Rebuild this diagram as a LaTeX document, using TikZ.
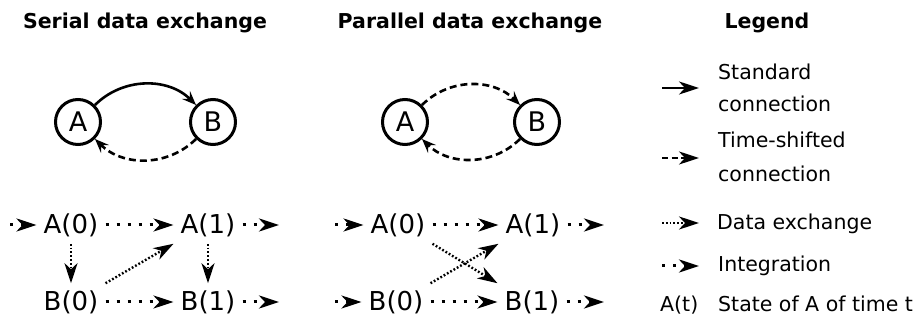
\documentclass[tikz,border=0pt]{standalone}
\usepackage{fontspec}
\setmainfont{DejaVu Sans}
\usetikzlibrary{arrows.meta}
\tikzset{
  x=1pt, y=-1pt,
  ttl/.style={font=\bfseries\fontsize{20.5}{24}\selectfont, anchor=base},
  circ/.style={circle, draw, line width=3pt, minimum size=45pt, inner sep=0pt, font=\fontsize{27}{30}\selectfont},
  st/.style={font=\fontsize{26}{30}\selectfont, inner sep=7pt},
  lg/.style={font=\fontsize{20.5}{24}\selectfont, anchor=base west, inner sep=0pt},
  bigtip/.style={-{Stealth[length=20pt,width=13pt,inset=6pt]}},
  smalltip/.style={-{Stealth[length=14pt,width=11pt,inset=5pt]}},
  stdcon/.style={line width=2.6pt, smalltip},
  tscon/.style={line width=2.6pt, dash pattern=on 7pt off 4pt, smalltip},
  datex/.style={line width=2.4pt, dash pattern=on 1.8pt off 2pt, bigtip},
  integ/.style={line width=3pt, dash pattern=on 3pt off 8pt, bigtip},
  lgstd/.style={line width=2.6pt, bigtip},
  lgts/.style={line width=2.6pt, dash pattern=on 6pt off 3.5pt, bigtip},
}
\begin{document}
\begin{tikzpicture}
\useasboundingbox (0,0) rectangle (922,323);
% titles
\node[ttl] (t1) at (145,29) {Serial data exchange};
\node[ttl] (t2) at (470,29) {Parallel data exchange};
\node[ttl] (t3) at (767,29) {Legend};
% serial graph
\node[circ] (sA) at (78,122) {A};
\node[circ] (sB) at (213,122) {B};
\draw[stdcon] (sA) to[bend left=45] (sB);
\draw[tscon] (sB) to[bend left=45] (sA);
% parallel graph
\node[circ] (pA) at (405,122) {A};
\node[circ] (pB) at (537,122) {B};
\draw[tscon] (pA) to[bend left=45] (pB);
\draw[tscon] (pB) to[bend left=45] (pA);
% serial states
\node[st] (sA0) at (71,225) {A(0)};
\node[st] (sA1) at (208,225) {A(1)};
\node[st] (sB0) at (71,302) {B(0)};
\node[st] (sB1) at (208,302) {B(1)};
\coordinate (sAin) at (10,225);
\coordinate (sAout) at (279,225);
\coordinate (sBout) at (279,302);
\draw[integ] (sAin) -- (sA0);
\draw[integ] (sA0) -- (sA1);
\draw[integ] (sA1) -- (sAout);
\draw[integ] (sB0) -- (sB1);
\draw[integ] (sB1) -- (sBout);
\draw[datex] (sA0) -- (sB0);
\draw[datex] (sA1) -- (sB1);
\draw[datex] (sB0.north east) -- (sA1.south west);
% parallel states
\node[st] (pA0) at (398,225) {A(0)};
\node[st] (pA1) at (533,225) {A(1)};
\node[st] (pB0) at (396,302) {B(0)};
\node[st] (pB1) at (532,302) {B(1)};
\coordinate (pAin) at (335,225);
\coordinate (pBin) at (335,302);
\coordinate (pAout) at (604,225);
\coordinate (pBout) at (604,302);
\draw[integ] (pAin) -- (pA0);
\draw[integ] (pA0) -- (pA1);
\draw[integ] (pA1) -- (pAout);
\draw[integ] (pBin) -- (pB0);
\draw[integ] (pB0) -- (pB1);
\draw[integ] (pB1) -- (pBout);
\draw[datex] (pA0.south east) -- (pB1.north west);
\draw[datex] (pB0.north east) -- (pA1.south west);
% legend
\coordinate (l1a) at (662,88);  \coordinate (l1b) at (699,88);
\coordinate (l2a) at (662,158); \coordinate (l2b) at (699,158);
\coordinate (l3a) at (662,223); \coordinate (l3b) at (699,223);
\coordinate (l4a) at (662,266); \coordinate (l4b) at (699,266);
\draw[lgstd] (l1a) -- (l1b);
\draw[lgts] (l2a) -- (l2b);
\draw[datex] (l3a) -- (l3b);
\draw[integ] (l4a) -- (l4b);
\node[lg] (L1a) at (718,80) {Standard};
\node[lg] (L1b) at (718,112) {connection};
\node[lg] (L2a) at (718,148) {Time-shifted};
\node[lg] (L2b) at (718,182) {connection};
\node[lg] (L3) at (717,230) {Data exchange};
\node[lg] (L4) at (718,272) {Integration};
\node[lg] (L5a) at (660,312) {A(t)};
\node[lg] (L5b) at (718,312) {State of A of time t};
\end{tikzpicture}
\end{document}
